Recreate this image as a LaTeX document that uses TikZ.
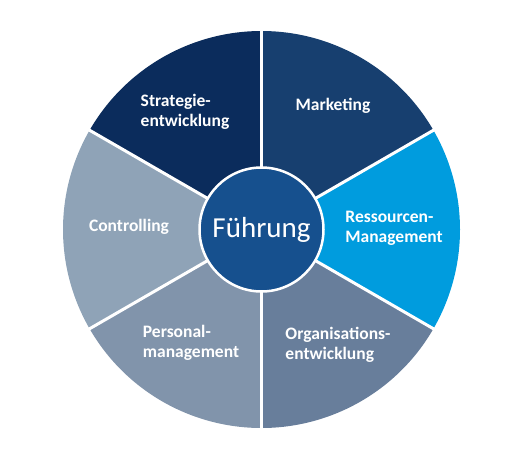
\documentclass[tikz,border=0pt]{standalone}
\usepackage{fontspec}
\setmainfont{Carlito}
\definecolor{colstrat}{HTML}{0B2C5C}
\definecolor{colmark}{HTML}{173F6F}
\definecolor{colress}{HTML}{009CDE}
\definecolor{colorga}{HTML}{687E9B}
\definecolor{colpers}{HTML}{8194AB}
\definecolor{colcontr}{HTML}{8FA3B7}
\definecolor{colfuehr}{HTML}{16508E}
\tikzset{
  seglabel/.style={text=white, font=\fontsize{17.5}{20}\selectfont\bfseries, align=left},
  gap/.style={white, line width=3pt},
}
\begin{document}
\begin{tikzpicture}[x=1pt,y=1pt]
\useasboundingbox (0,0) rectangle (524,459);
\coordinate (m) at (261.5,229.5);
\foreach \a/\col in {90/colstrat,30/colmark,-30/colress,-90/colorga,-150/colpers,150/colcontr}
  \fill[fill=\col] (m) -- ++(\a:198.5) arc[start angle=\a, end angle=\a+60, radius=198.5] -- cycle;
\foreach \a in {30,90,...,330}
  \draw[gap] (m) -- ++(\a:200);
\node[circle, draw=white, line width=2.5pt, fill=colfuehr, minimum size=124pt, inner sep=0pt,
  text=white, font=\fontsize{29}{34}\selectfont] (fuehrung) at (m) {Führung};
\node[seglabel] (strategie) at (185,347) {Strategie-\\entwicklung};
\node[seglabel] (marketing) at (333,353) {Marketing};
\node[seglabel] (ressourcen) at (394,231) {Ressourcen-\\Management};
\node[seglabel] (organisation) at (338,114) {Organisations-\\entwicklung};
\node[seglabel] (personal) at (191,116) {Personal-\\management};
\node[seglabel] (controlling) at (129,232) {Controlling};
\end{tikzpicture}
\end{document}
